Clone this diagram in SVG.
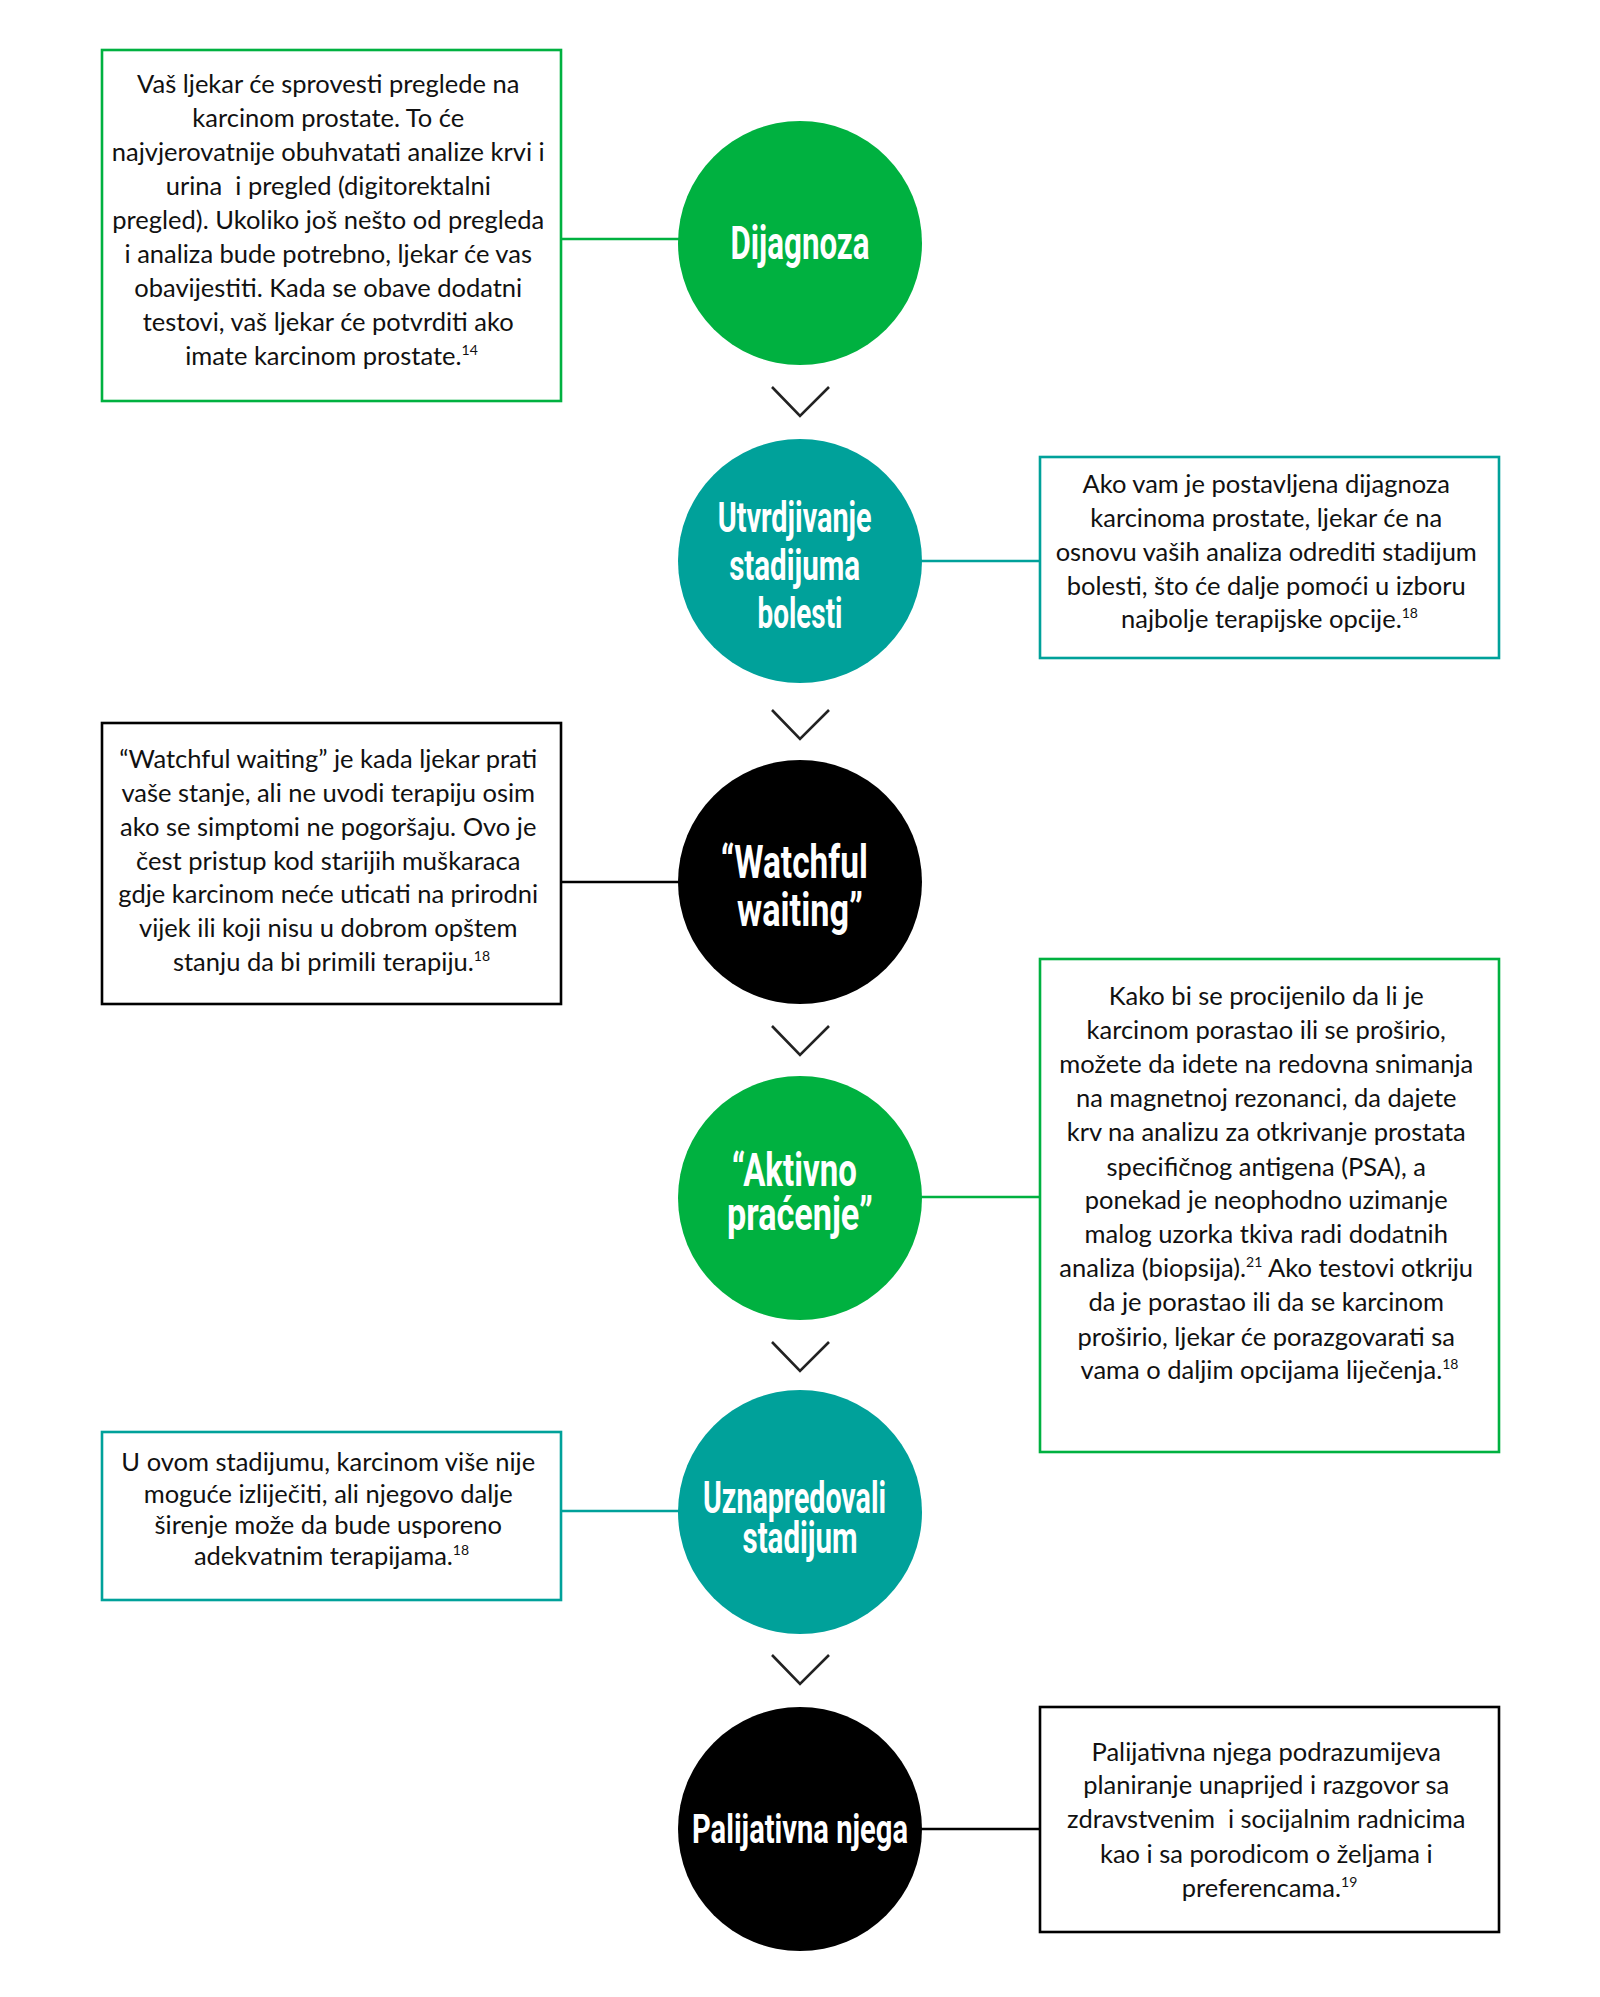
<svg xmlns="http://www.w3.org/2000/svg" width="1600" height="1997" viewBox="0 0 1600 1997">
<style>
.bg{fill:#ffffff}
.box{fill:#ffffff;stroke-width:2.6}
.g{stroke:#00b140}
.t{stroke:#00a19a}
.k{stroke:#000000}
.txt{font-family:Lato,"Liberation Sans",sans-serif;font-size:25.5px;fill:#111111;text-anchor:middle}
.sup{font-size:14px}
.lbl{font-family:"Liberation Sans Narrow","Roboto","DejaVu Sans Condensed",sans-serif;font-weight:700;fill:#ffffff;text-anchor:middle}
.conn{stroke-width:2.6;fill:none}
.chev{fill:none;stroke:#222222;stroke-width:2.6}
</style>
<rect class="bg" x="0" y="0" width="1600" height="1997"/>

<g id="connectors">
  <line class="conn g" x1="561" y1="239" x2="680" y2="239"/>
  <line class="conn t" x1="920" y1="561" x2="1040" y2="561"/>
  <line class="conn k" x1="561" y1="882" x2="680" y2="882"/>
  <line class="conn g" x1="920" y1="1197" x2="1040" y2="1197"/>
  <line class="conn t" x1="561" y1="1511" x2="680" y2="1511"/>
  <line class="conn k" x1="920" y1="1829" x2="1040" y2="1829"/>
  <polyline class="chev" points="772,387 800,416 829,387"/>
  <polyline class="chev" points="772,710 800,739 829,710"/>
  <polyline class="chev" points="772,1026 800,1055 829,1026"/>
  <polyline class="chev" points="772,1342 800,1371 829,1342"/>
  <polyline class="chev" points="772,1655 800,1684 829,1655"/>
</g>

<g id="node-dijagnoza">
  <circle cx="800" cy="243" r="122" fill="#00b140"/>
  <text class="lbl" x="800" y="259" font-size="47" textLength="139" lengthAdjust="spacingAndGlyphs">Dijagnoza</text>
</g>

<g id="note-dijagnoza">
  <rect class="box g" x="102" y="50" width="459" height="351"/>
  <text class="txt">
    <tspan x="331.5" y="93">Vaš ljekar će sprovesti preglede na</tspan>
    <tspan x="331.5" y="127">karcinom prostate. To će</tspan>
    <tspan x="331.5" y="161">najvjerovatnije obuhvatati analize krvi i</tspan>
    <tspan x="331.5" y="195">urina&#160; i pregled (digitorektalni</tspan>
    <tspan x="331.5" y="229">pregled). Ukoliko još nešto od pregleda</tspan>
    <tspan x="331.5" y="263">i analiza bude potrebno, ljekar će vas</tspan>
    <tspan x="331.5" y="297">obavijestiti. Kada se obave dodatni</tspan>
    <tspan x="331.5" y="331">testovi, vaš ljekar će potvrditi ako</tspan>
    <tspan x="331.5" y="365">imate karcinom prostate.<tspan class="sup" dy="-10">14</tspan></tspan>
  </text>
</g>

<g id="node-stadijum">
  <circle cx="800" cy="561" r="122" fill="#00a19a"/>
  <text class="lbl" font-size="43">
    <tspan x="800" y="532" textLength="154" lengthAdjust="spacingAndGlyphs">Utvrdjivanje</tspan>
    <tspan x="800" y="580" textLength="131" lengthAdjust="spacingAndGlyphs">stadijuma</tspan>
    <tspan x="800" y="628" textLength="85" lengthAdjust="spacingAndGlyphs">bolesti</tspan>
  </text>
</g>

<g id="note-stadijum">
  <rect class="box t" x="1040" y="457" width="459" height="201"/>
  <text class="txt">
    <tspan x="1269.5" y="493">Ako vam je postavljena dijagnoza</tspan>
    <tspan x="1269.5" y="527">karcinoma prostate, ljekar će na</tspan>
    <tspan x="1269.5" y="561">osnovu vaših analiza odrediti stadijum</tspan>
    <tspan x="1269.5" y="595">bolesti, što će dalje pomoći u izboru</tspan>
    <tspan x="1269.5" y="628">najbolje terapijske opcije.<tspan class="sup" dy="-10">18</tspan></tspan>
  </text>
</g>

<g id="node-watchful">
  <circle cx="800" cy="882" r="122" fill="#000000"/>
  <text class="lbl" font-size="46">
    <tspan x="800" y="878" textLength="147" lengthAdjust="spacingAndGlyphs">“Watchful</tspan>
    <tspan x="800" y="926" textLength="126" lengthAdjust="spacingAndGlyphs">waiting”</tspan>
  </text>
</g>

<g id="note-watchful">
  <rect class="box k" x="102" y="723" width="459" height="281"/>
  <text class="txt">
    <tspan x="331.5" y="768">“Watchful waiting” je kada ljekar prati</tspan>
    <tspan x="331.5" y="802">vaše stanje, ali ne uvodi terapiju osim</tspan>
    <tspan x="331.5" y="836">ako se simptomi ne pogoršaju. Ovo je</tspan>
    <tspan x="331.5" y="870">čest pristup kod starijih muškaraca</tspan>
    <tspan x="331.5" y="903">gdje karcinom neće uticati na prirodni</tspan>
    <tspan x="331.5" y="937">vijek ili koji nisu u dobrom opštem</tspan>
    <tspan x="331.5" y="971">stanju da bi primili terapiju.<tspan class="sup" dy="-10">18</tspan></tspan>
  </text>
</g>

<g id="node-aktivno">
  <circle cx="800" cy="1198" r="122" fill="#00b140"/>
  <text class="lbl" font-size="46">
    <tspan x="800" y="1186" textLength="125" lengthAdjust="spacingAndGlyphs">“Aktivno</tspan>
    <tspan x="800" y="1230" textLength="146" lengthAdjust="spacingAndGlyphs">praćenje”</tspan>
  </text>
</g>

<g id="note-aktivno">
  <rect class="box g" x="1040" y="959" width="459" height="493"/>
  <text class="txt">
    <tspan x="1269.5" y="1005">Kako bi se procijenilo da li je</tspan>
    <tspan x="1269.5" y="1039">karcinom porastao ili se proširio,</tspan>
    <tspan x="1269.5" y="1073">možete da idete na redovna snimanja</tspan>
    <tspan x="1269.5" y="1107">na magnetnoj rezonanci, da dajete</tspan>
    <tspan x="1269.5" y="1141">krv na analizu za otkrivanje prostata</tspan>
    <tspan x="1269.5" y="1176">specifičnog antigena (PSA), a</tspan>
    <tspan x="1269.5" y="1209">ponekad je neophodno uzimanje</tspan>
    <tspan x="1269.5" y="1243">malog uzorka tkiva radi dodatnih</tspan>
    <tspan x="1269.5" y="1277">analiza (biopsija).<tspan class="sup" dy="-10">21</tspan><tspan dy="10"> Ako testovi otkriju</tspan></tspan>
    <tspan x="1269.5" y="1311">da je porastao ili da se karcinom</tspan>
    <tspan x="1269.5" y="1346">proširio, ljekar će porazgovarati sa</tspan>
    <tspan x="1269.5" y="1379">vama o daljim opcijama liječenja.<tspan class="sup" dy="-10">18</tspan></tspan>
  </text>
</g>

<g id="node-uznapredovali">
  <circle cx="800" cy="1512" r="122" fill="#00a19a"/>
  <text class="lbl" font-size="44">
    <tspan x="800" y="1513" textLength="183" lengthAdjust="spacingAndGlyphs">Uznapredovali</tspan>
    <tspan x="800" y="1553" textLength="115" lengthAdjust="spacingAndGlyphs">stadijum</tspan>
  </text>
</g>

<g id="note-uznapredovali">
  <rect class="box t" x="102" y="1432" width="459" height="168"/>
  <text class="txt">
    <tspan x="331.5" y="1471">U ovom stadijumu, karcinom više nije</tspan>
    <tspan x="331.5" y="1503">moguće izliječiti, ali njegovo dalje</tspan>
    <tspan x="331.5" y="1534">širenje može da bude usporeno</tspan>
    <tspan x="331.5" y="1565">adekvatnim terapijama.<tspan class="sup" dy="-10">18</tspan></tspan>
  </text>
</g>

<g id="node-palijativna">
  <circle cx="800" cy="1829" r="122" fill="#000000"/>
  <text class="lbl" x="800" y="1843" font-size="41" textLength="216" lengthAdjust="spacingAndGlyphs">Palijativna njega</text>
</g>

<g id="note-palijativna">
  <rect class="box k" x="1040" y="1707" width="459" height="225"/>
  <text class="txt">
    <tspan x="1269.5" y="1761">Palijativna njega podrazumijeva</tspan>
    <tspan x="1269.5" y="1794">planiranje unaprijed i razgovor sa</tspan>
    <tspan x="1269.5" y="1828">zdravstvenim&#160; i socijalnim radnicima</tspan>
    <tspan x="1269.5" y="1863">kao i sa porodicom o željama i</tspan>
    <tspan x="1269.5" y="1897">preferencama.<tspan class="sup" dy="-10">19</tspan></tspan>
  </text>
</g>
</svg>
